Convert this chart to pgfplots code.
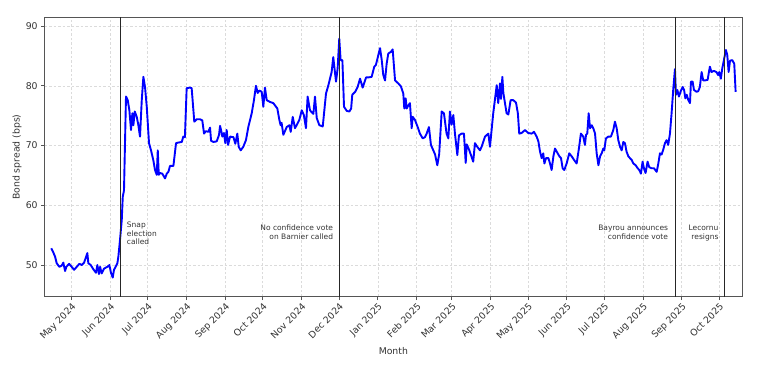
\documentclass[border=0pt]{standalone}
\usepackage{pgfplots}
\pgfplotsset{compat=1.18}
\usepackage{fontspec}
\setmainfont{DejaVu Sans}
\definecolor{txt}{HTML}{333333}
\definecolor{frame}{HTML}{555555}
\begin{document}
\begin{tikzpicture}
\path[use as bounding box] (-44.7pt,-76.3pt) rectangle (736.3pt,296.7pt);
\begin{axis}[
  scale only axis,
  width=697.3pt, height=279pt,
  xmin=-21.3, xmax=536.2, ymin=44.7, ymax=91.4,
  xtick={0,31,61,92,123,153,184,214,245,276,304,335,365,396,426,457,488,518},
  xticklabels={May 2024,Jun 2024,Jul 2024,Aug 2024,Sep 2024,Oct 2024,Nov 2024,Dec 2024,Jan 2025,Feb 2025,Mar 2025,Apr 2025,May 2025,Jun 2025,Jul 2025,Aug 2025,Sep 2025,Oct 2025},
  ytick={50,60,70,80,90},
  /pgf/number format/assume math mode=true,
  tick align=outside, tick pos=left,
  major tick length=3.5pt,
  every tick/.style={frame, line width=0.7pt},
  axis line style={frame, line width=0.8pt},
  grid=major,
  major grid style={gray!28, line width=0.5pt, dash pattern=on 2.5pt off 2pt},
  ticklabel style={font=\fontsize{9.3}{10}\selectfont, text=txt},
  xticklabel style={rotate=45, anchor=north east, inner sep=1.5pt},
  label style={font=\fontsize{9.3}{10}\selectfont, text=txt},
  xlabel={Month},
  ylabel={Bond spread (bps)},
  xlabel style={at={(axis description cs:0.5,-0.1935)}, anchor=center},
  ylabel style={at={(axis description cs:-0.0396,0.5)}, anchor=center},
  clip=true,
]
\addplot[blue, line width=1.9pt, line join=round] coordinates {
(-16,52.8) (-14.4,52.1) (-13,51.4) (-11.7,50.3) (-9.6,49.7) (-7.7,49.9) (-6.4,50.4) (-5,49.0) (-4,49.7) (-1.8,50.2) (0.3,49.7) (2.2,49.2) (4.3,49.7) (6.4,50.2) (8.3,50.0) (10.2,50.4) (12.8,52.0) (13.6,50.3) (15.5,50.0) (17.6,49.3) (19.7,48.7) (20.8,50.0) (22.1,48.5) (23,49.7) (24.3,48.6) (26.1,49.4) (28.8,49.7) (30.4,50.0) (31.7,48.7) (33.1,47.9) (34.1,49.2) (35.4,49.7) (36.8,50.3) (37.6,51.4) (38.9,54.2) (40.3,57.5) (41.1,61.4) (42.1,62.5) (42.9,70.4) (43.7,78.2) (45.1,77.6) (46.4,75.9) (47.7,72.6) (48.8,75.4) (49.6,73.4) (50.7,75.7) (52.3,74.8) (53.6,73.4) (54.9,71.5) (56.3,77.6) (57.6,81.5) (58.9,79.8) (60.3,76.5) (62.1,70.4) (63.7,69.2) (65.5,67.6) (66.9,65.9) (68.3,65.1) (69.1,69.2) (69.9,65.1) (70.9,65.4) (72.7,65.3) (74.9,64.5) (76.3,65.3) (77.6,65.6) (78.9,66.6) (81.6,66.6) (83.7,70.4) (85.5,70.5) (88.3,70.6) (89.5,71.5) (90.8,71.4) (92.2,79.6) (94.8,79.7) (96.2,79.6) (98.3,74.0) (100.2,74.4) (102.8,74.4) (104.7,74.2) (106.1,72.0) (107.4,72.4) (109.5,72.3) (110.9,73.0) (111.7,70.8) (113.5,70.6) (116.2,70.7) (118.1,71.8) (118.9,73.3) (119.8,72.5) (120.7,71.5) (122,72.1) (123.1,70.4) (124.2,72.6) (125.3,70.1) (126.9,71.5) (129.6,71.4) (131.1,70.3) (132.7,72.0) (133.8,69.8) (135.4,69.2) (137.5,69.8) (139.6,70.9) (141.5,73.1) (144.2,75.4) (146,77.6) (147.6,80.0) (149,78.8) (150.3,79.2) (152.2,79.0) (153.5,76.5) (154.8,79.7) (156.2,77.6) (158.8,77.3) (161.5,77.1) (164.7,76.2) (166.3,74.3) (167.3,73.4) (168.1,73.8) (169.5,71.8) (172.2,73.1) (174.3,73.4) (175.4,72.3) (177,74.8) (178.8,72.9) (180.1,73.4) (182.3,74.3) (184.2,75.9) (185.9,75.1) (187.6,72.9) (188.9,78.2) (190.8,75.9) (192.1,75.6) (193.5,75.3) (194.8,78.2) (196.2,74.6) (198.3,73.4) (201,73.2) (203.6,78.7) (205.5,80.1) (208.1,82.3) (209.4,84.8) (211.6,80.7) (212.9,82.9) (214.2,87.9) (215.3,84.3) (216.7,84.3) (218,76.5) (220.2,75.8) (222.3,75.7) (223.7,76.2) (224.6,78.5) (227,79.0) (228.9,79.8) (230.8,81.2) (232.9,79.7) (235.6,81.4) (237.4,81.4) (240.1,81.5) (242.2,83.2) (243.5,83.5) (246.8,86.3) (248.1,84.4) (249.4,81.8) (250.8,80.9) (252.1,83.7) (253.4,85.4) (255.6,85.7) (256.9,86.1) (258.8,80.9) (261.4,80.4) (263.5,79.9) (265.4,78.7) (266.2,76.2) (267.3,77.9) (268.1,76.2) (269.4,76.7) (270.7,77.1) (272.1,72.9) (272.9,74.8) (274.7,74.3) (276.9,73.1) (278.7,72.0) (280.9,71.2) (282.7,71.4) (284.1,72.0) (285.9,73.1) (287.5,70.1) (289.4,69.2) (290.8,68.5) (292.6,66.7) (294.1,68.6) (296.1,75.7) (297.9,75.4) (300,72.0) (301.4,71.2) (302.7,75.7) (304,73.5) (305.4,75.1) (306.7,72.0) (308.6,68.4) (309.9,71.7) (312,72.0) (313.9,72.0) (315.3,67.1) (316.1,70.2) (318,69.3) (319.5,68.4) (321.3,67.3) (322.7,70.4) (324.5,69.8) (326.7,69.2) (328,69.8) (330.7,71.5) (333.4,72.0) (334.7,69.8) (337.3,75.4) (340.1,80.1) (341.3,77.1) (342.7,80.4) (343.5,77.8) (344.6,81.5) (345.4,78.8) (348,75.4) (349.4,75.2) (351.2,77.6) (353.3,77.6) (355.5,77.2) (357,75.4) (358.1,72.0) (360,72.1) (362.7,72.6) (365.3,72.1) (368,72.0) (369.9,72.3) (372,71.5) (373.4,70.7) (374.7,69.0) (376,67.9) (377.3,68.7) (378.2,67.0) (379.5,67.9) (381.4,67.9) (382.7,67.0) (384,65.9) (385.4,68.2) (386.7,69.5) (388,69.0) (390.2,68.2) (391.5,67.9) (392.8,66.2) (394.1,65.9) (396,67.0) (398.1,68.7) (400,68.2) (401.9,67.6) (404,67.0) (405.8,69.5) (407.4,72.0) (409.3,71.5) (410.6,70.1) (411.5,71.8) (412.5,72.0) (413.6,75.4) (414.7,72.9) (416.1,73.4) (417.3,72.9) (418.7,72.0) (420,68.7) (421.4,66.7) (422.7,68.2) (424,68.7) (425.3,69.5) (426.1,69.2) (427.4,71.2) (429.3,71.5) (431.4,71.5) (433.3,72.6) (434.6,74.0) (436,72.9) (437.3,70.9) (438.7,69.8) (440,69.2) (441.3,70.6) (442.6,70.4) (443.9,69.0) (445.3,68.2) (446.6,67.9) (448,67.6) (449.3,67.0) (451.2,66.7) (452.8,66.2) (454.1,65.9) (455.4,65.3) (456.7,67.3) (457.8,66.2) (459.1,65.4) (460.7,67.3) (462,66.4) (463.9,66.2) (465.8,66.2) (468,65.6) (469.3,67.0) (470.6,68.7) (471.9,68.5) (473.2,69.3) (474.6,70.4) (475.9,70.9) (477.2,70.1) (478.6,72.0) (479.9,75.4) (481.2,79.3) (482.6,82.8) (483.4,78.5) (484.5,79.3) (485.8,78.2) (487.2,79.1) (488.8,79.8) (489.9,79.3) (490.9,77.9) (492,78.5) (493.3,77.6) (494.6,77.1) (495.4,80.7) (496.7,80.7) (497.8,79.3) (499.9,79.0) (501.2,79.1) (502.5,79.8) (503.9,82.3) (505.2,80.9) (506.5,80.9) (508.7,81.0) (510.5,83.2) (511.8,82.3) (513.7,82.5) (515.8,82.3) (517.1,81.8) (518,82.3) (519.3,81.2) (520.4,82.9) (522,84.6) (523.3,86.0) (524.4,85.2) (525.5,82.3) (526.6,84.2) (528.4,84.3) (530,83.7) (531.1,79.0)
};
\addplot[black!85, line width=0.9pt] coordinates {(39.2,40) (39.2,100)};
\addplot[black!85, line width=0.9pt] coordinates {(214.6,40) (214.6,100)};
\addplot[black!85, line width=0.9pt] coordinates {(482.6,40) (482.6,100)};
\addplot[black!85, line width=0.9pt] coordinates {(522.5,40) (522.5,100)};
\begin{scope}[every node/.style={font=\fontsize{7.5}{8.4}\selectfont, text=txt, inner sep=0pt}]
\node[anchor=north west, align=left] at (axis cs:44.3,57.2) {Snap\\election\\called};
\node[anchor=north east, align=right] at (axis cs:209.4,56.7) {No confidence vote\\on Barnier called};
\node[anchor=north east, align=right] at (axis cs:477.2,56.7) {Bayrou announces\\confidence vote};
\node[anchor=north east, align=right] at (axis cs:517.5,56.7) {Lecornu\\resigns};
\end{scope}
\end{axis}
\end{tikzpicture}
\end{document}
